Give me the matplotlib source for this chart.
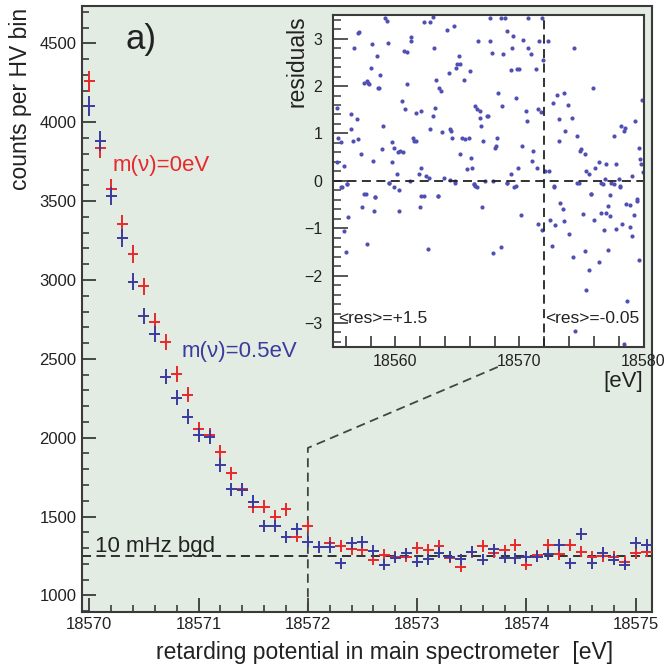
import numpy as np
import matplotlib.pyplot as plt
from matplotlib.ticker import MultipleLocator

plt.rcParams['font.family'] = ['Liberation Sans', 'DejaVu Sans']

# retarding potential of each HV bin [eV]
Potential = [18570.0, 18570.1, 18570.2, 18570.3, 18570.4, 18570.5, 18570.6, 18570.7,
             18570.8, 18570.9, 18571.0, 18571.1, 18571.2, 18571.3, 18571.4, 18571.5,
             18571.6, 18571.7, 18571.8, 18571.9, 18572.0, 18572.1, 18572.2, 18572.3,
             18572.4, 18572.5, 18572.6, 18572.7, 18572.8, 18572.9, 18573.0, 18573.1,
             18573.2, 18573.3, 18573.4, 18573.5, 18573.6, 18573.7, 18573.8, 18573.9,
             18574.0, 18574.1, 18574.2, 18574.3, 18574.4, 18574.5, 18574.6, 18574.7,
             18574.8, 18574.9, 18575.0, 18575.1]

# counts per bin, m(nu) = 0 eV
Counts_0eV = [4260, 3835, 3580, 3355, 3165, 2960, 2736, 2605, 2404, 2271,
              2054, 2017, 1912, 1775, 1673, 1563, 1563, 1500, 1546, 1373,
              1441, 1309, 1335, 1314, 1295, 1290, 1225, 1257, 1245, 1246,
              1300, 1288, 1314, 1238, 1180, 1275, 1312, 1270, 1285, 1320,
              1193, 1255, 1320, 1260, 1320, 1278, 1246, 1250, 1246, 1214,
              1267, 1278]

# counts per bin, m(nu) = 0.5 eV
Counts_05eV = [4103, 3881, 3533, 3264, 2989, 2772, 2658, 2387, 2254, 2134,
               2017, 2003, 1827, 1673, 1669, 1595, 1441, 1441, 1369, 1420,
               1341, 1306, 1306, 1205, 1333, 1338, 1282, 1196, 1240, 1268,
               1214, 1228, 1271, 1246, 1230, 1278, 1225, 1292, 1238, 1236,
               1246, 1246, 1260, 1320, 1204, 1390, 1204, 1271, 1225, 1193,
               1331, 1320]

Background = 1250  # 10 mHz background level

# residuals of the fit (inset)
Res_E = [18555.3, 18555.4, 18555.6, 18555.3, 18555.9, 18555.7, 18556.1, 18556.4, 18556.4, 18556.6,
         18556.7, 18556.9, 18557.0, 18557.1, 18557.0, 18557.2, 18557.5, 18557.6, 18557.7, 18557.8,
         18557.9, 18558.0, 18558.1, 18558.2, 18558.4, 18558.5, 18558.6, 18558.7, 18558.8, 18558.9,
         18559.0, 18559.2, 18559.3, 18559.4, 18559.5, 18559.7, 18559.7, 18559.9, 18560.1, 18560.2,
         18560.4, 18560.5, 18560.6, 18560.7, 18560.8, 18560.9, 18560.9, 18561.2, 18561.3, 18561.3,
         18561.4, 18561.5, 18561.7, 18561.7, 18561.9, 18562.1, 18562.1, 18562.3, 18562.3, 18562.5,
         18562.7, 18562.8, 18562.8, 18563.0, 18563.0, 18563.1, 18563.2, 18563.3, 18563.4, 18563.5,
         18563.7, 18563.8, 18563.9, 18564.2, 18564.3, 18564.4, 18564.4, 18564.5, 18564.6, 18564.7,
         18564.8, 18564.9, 18565.0, 18565.1, 18565.2, 18565.2, 18565.4, 18565.5, 18565.6, 18565.8,
         18565.9, 18566.0, 18566.1, 18566.2, 18566.3, 18566.4, 18566.4, 18566.6, 18566.7, 18566.8,
         18566.8, 18566.9, 18567.1, 18567.2, 18567.4, 18567.5, 18567.6, 18567.6, 18567.8, 18567.9,
         18568.0, 18568.1, 18568.2, 18568.3, 18568.5, 18568.6, 18568.7, 18568.8, 18569.0, 18569.0,
         18569.3, 18569.3, 18569.4, 18569.5, 18569.7, 18569.7, 18569.8, 18569.9, 18570.0, 18570.2,
         18570.3, 18570.5, 18570.6, 18570.7, 18570.7, 18570.9, 18571.0, 18571.1, 18571.3, 18571.4,
         18571.5, 18571.6, 18571.7, 18571.8, 18571.9,
         18572.1, 18572.3, 18572.4, 18572.7, 18572.8, 18573.0, 18573.2, 18573.2, 18573.6, 18573.7,
         18573.9, 18574.2, 18574.4, 18574.6, 18574.8, 18574.9, 18575.0, 18575.3, 18575.4, 18575.6,
         18575.8, 18575.9, 18576.1, 18576.4, 18576.6, 18576.9, 18577.0, 18577.4, 18577.6, 18577.8,
         18578.0, 18578.1, 18578.2, 18578.4, 18578.5, 18579.1, 18579.3, 18579.5, 18579.6, 18579.7,
         18579.8, 18579.9, 18579.95,
         18555.6, 18556.1, 18556.2, 18555.9, 18556.0, 18557.3, 18557.5, 18557.7, 18558.3, 18558.4,
         18559.5, 18559.9, 18560.3, 18560.3, 18562.0, 18562.1, 18562.6, 18563.4, 18564.8, 18566.3,
         18566.6, 18567.0, 18567.9, 18568.5, 18569.0, 18569.6, 18570.1, 18571.5, 18571.8, 18572.5,
         18572.6, 18572.8, 18572.9, 18573.3, 18573.5, 18573.6, 18574.0, 18574.3, 18574.5, 18574.6,
         18575.1, 18575.3, 18575.4, 18575.6, 18575.8, 18576.0, 18576.4, 18576.6, 18576.7, 18576.8,
         18577.0, 18577.1, 18577.3, 18577.1, 18577.3, 18577.6, 18577.8, 18578.1, 18578.3, 18578.6,
         18578.7, 18578.9, 18578.9, 18579.1, 18579.2, 18579.5, 18579.6, 18578.4]
Res_Val = [1.54, 0.91, 0.81, 0.39, 0.32, -0.14, -0.07, 1.40, 1.09, 0.84,
           2.81, 1.30, 3.12, 3.14, 0.88, 0.56, 2.07, -0.28, 2.11, 2.07,
           2.05, 2.39, 2.88, 0.42, -0.35, 2.63, 1.95, 1.95, 2.23, 0.67,
           1.16, 3.44, 3.38, 2.91, -0.04, 0.81, 0.39, 0.70, 0.15, 0.60,
           0.63, 1.68, 0.60, 2.74, 1.51, 2.72, 2.04, 0.00, 3.03, 2.95,
           0.91, 0.84, 1.44, 0.84, 0.14, 0.28, 1.47, 3.35, -0.32, 0.11,
           0.07, 3.35, 1.09, 3.45, 1.37, 2.81, 1.54, 2.12, -0.32, 1.95,
           1.89, 1.02, 0.07, 3.19, 2.28, 1.09, 0.01, 1.05, 0.91, 3.26,
           0.00, 2.39, 2.46, 2.63, 2.47, 0.56, 0.91, 2.12, 0.88, 0.25,
           0.91, 2.32, 0.49, 0.28, -0.07, -0.11, 1.58, 1.51, 2.95, 1.33,
           1.47, 1.16, 0.84, 0.00, 1.37, 1.37, 3.44, 2.95, 2.70, 0.00,
           0.70, 0.74, 0.91, 1.86, 3.44, 1.58, 2.67, 3.44, -0.04, 3.17,
           0.14, 2.33, 2.81, 3.05, -0.11, 1.75, 2.35, 0.28, 2.35, 0.74,
           2.98, 1.47, 1.26, 3.44, 2.81, 2.67, 0.42, 0.63, 2.35, 0.28,
           1.51, 2.95, 1.46, 3.44, 2.56,
           0.21, 2.95, 0.21, 1.65, -0.11, 1.82, 1.30, 0.84, 1.86, 1.05,
           1.61, 1.33, 2.81, 0.95, -0.04, 0.63, 0.67, 0.56, 0.21, 0.14,
           -0.28, 1.96, 0.28, 0.39, -0.04, 0.04, 0.35, -0.04, 0.95, 0.35,
           0.04, -0.11, 1.16, 1.05, 1.12, 0.11, 1.26, -0.42, 0.70, 0.46,
           0.35, 1.70, 0.18,
           -0.13, -0.07, -0.77, -1.05, -1.51, -0.55, -0.28, -1.33, -0.63, -0.34,
           -0.04, -0.13, -0.20, -0.63, -0.56, -0.32, -1.44, -0.32, -0.04, -0.06,
           -0.13, -0.55, -1.53, -1.39, -0.04, -0.13, -0.72, -0.91, -1.04, -0.83,
           -1.37, -0.13, -0.93, -0.46, -0.60, -0.84, -1.12, -1.60, -3.16, -0.04,
           -0.70, -1.49, -2.30, -1.88, -0.27, -0.83, -1.72, -0.67, -0.06, -1.04,
           -0.67, -0.53, -0.74, -1.46, -0.30, -0.06, -1.02, -0.13, -0.91, -0.48,
           -2.53, -0.51, -0.98, -1.16, -0.72, -0.39, -1.67, -3.45]

Mean_Below = '<res>=+1.5'
Mean_Above = '<res>=-0.05'

Red = '#e8282c'
Blue = '#3b3b9e'
Frame = '#3a3a3a'
Dash = (0, (5, 3))

fig = plt.figure(figsize=(6.65, 6.69), dpi=100)

# main spectrum
ax = fig.add_axes([0.1233, 0.0857, 0.8566, 0.9053])
ax.set_facecolor('#e3ece3')
ax.errorbar(Potential, Counts_0eV, xerr=0.05, yerr=np.sqrt(Counts_0eV),
            fmt='none', ecolor=Red, elinewidth=1.4, capsize=0, zorder=3)
ax.errorbar(Potential, Counts_05eV, xerr=0.05, yerr=np.sqrt(Counts_05eV),
            fmt='none', ecolor=Blue, elinewidth=1.4, capsize=0, zorder=3)
ax.set_xlim(18569.933, 18575.146)
ax.set_ylim(897, 4737)
ax.axhline(Background, color='#222222', lw=1.3, ls=Dash, zorder=2)
# guide from the 18572 eV bin up to the inset
ax.plot([18572, 18572, 18573.76], [897, 1935, 2455], color='#444444',
        lw=1.3, ls=Dash, zorder=2)

ax.xaxis.set_major_locator(MultipleLocator(1))
ax.xaxis.set_minor_locator(MultipleLocator(0.2))
ax.yaxis.set_major_locator(MultipleLocator(500))
ax.yaxis.set_minor_locator(MultipleLocator(100))
ax.ticklabel_format(useOffset=False, style='plain')
ax.tick_params(which='both', direction='in', top=False, right=False,
               color=Frame, labelcolor='#222222', labelsize=12)
ax.tick_params(which='major', length=10, width=1.3)
ax.tick_params(which='minor', length=5, width=1.2)
ax.tick_params(axis='x', pad=4)
ax.tick_params(axis='y', pad=4)
for s in ax.spines.values():
    s.set_linewidth(1.5)
    s.set_color(Frame)

ax.text(0.0755, 0.944, 'a)', transform=ax.transAxes, fontsize=25,
        va='center', ha='left', color='#222222')
ax.text(18570.21, 3723, 'm(ν)=0eV', color=Red, fontsize=16, va='center')
ax.text(18570.845, 2546, 'm(ν)=0.5eV', color=Blue, fontsize=16, va='center')
ax.text(18570.05, 1278, '10 mHz bgd', color='#222222', fontsize=16,
        va='baseline')

fig.text(0.922, 0.0254, 'retarding potential in main spectrometer  [eV]',
         ha='right', va='center', fontsize=16.5, color='#222222')
fig.text(0.031, 0.988, 'counts per HV bin', rotation=90, ha='center',
         va='top', fontsize=16.5, color='#222222')

# inset with residuals
ins = fig.add_axes([0.5012, 0.4818, 0.4665, 0.4958])
ins.set_facecolor('white')
ins.plot(Res_E, Res_Val, ls='none', marker='o', ms=3.0, color='#5050b4',
         mec='none', clip_on=True)
ins.set_xlim(18555, 18580)
ins.set_ylim(-3.5, 3.5)
ins.axhline(0, color='#222222', lw=1.3, ls=Dash)
ins.axvline(18572, color='#222222', lw=1.3, ls=Dash)
ins.xaxis.set_major_locator(MultipleLocator(10))
ins.xaxis.set_minor_locator(MultipleLocator(2))
ins.yaxis.set_major_locator(MultipleLocator(1))
ins.yaxis.set_minor_locator(MultipleLocator(0.2))
ins.ticklabel_format(useOffset=False, style='plain')
ins.tick_params(which='both', direction='in', top=False, right=False,
                color=Frame, labelcolor='#222222', labelsize=11.5)
ins.tick_params(axis='x', which='both', length=8, width=1.2, pad=5)
ins.tick_params(axis='y', which='major', length=11, width=1.2, pad=8)
ins.tick_params(axis='y', which='minor', length=6, width=1.1)
for s in ins.spines.values():
    s.set_linewidth(1.5)
    s.set_color(Frame)

ins.text(18555.35, -2.9, Mean_Below, fontsize=12.5, va='center', color='#222222')
ins.text(18572.05, -2.9, Mean_Above, fontsize=12.5, va='center', color='#222222')

fig.text(0.4466, 0.9776, 'residuals', rotation=90, ha='center', va='top',
         fontsize=16.5, color='#222222')
fig.text(0.967, 0.429, '[eV]', ha='right', va='center', fontsize=16,
         color='#222222')

fig.savefig('out.png', dpi=100)
